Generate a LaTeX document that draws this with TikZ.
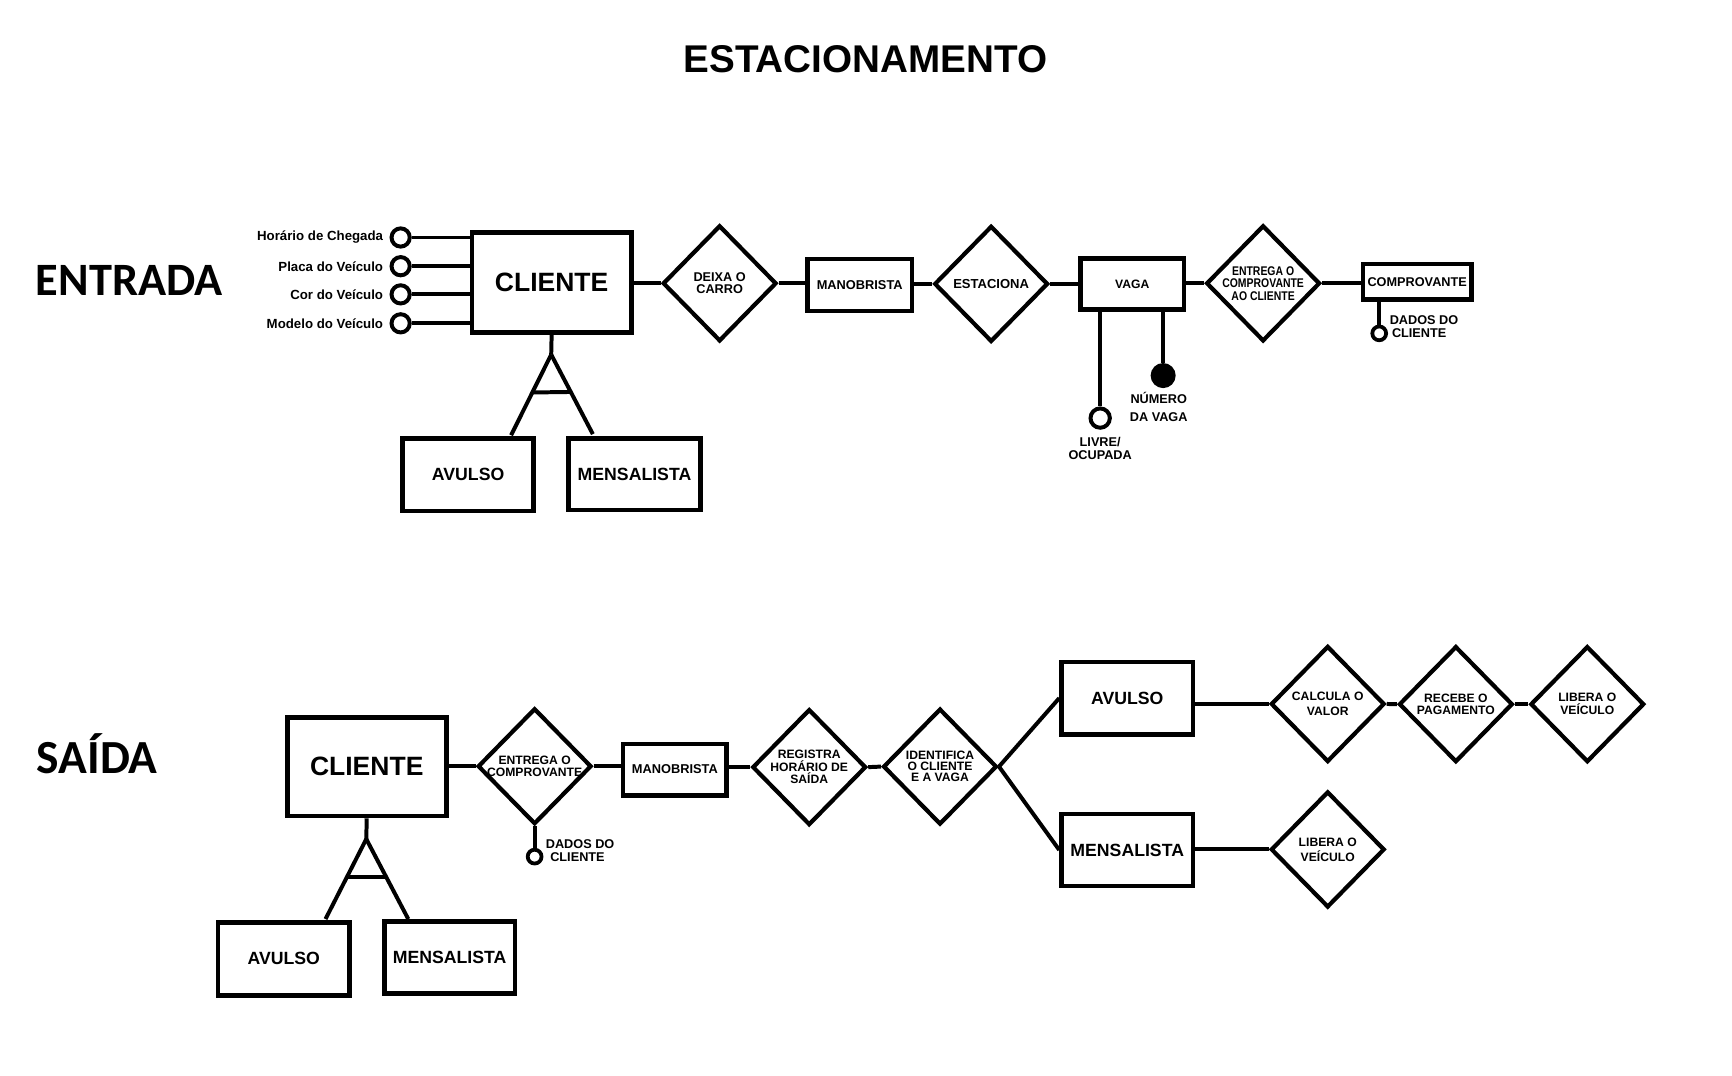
\documentclass[tikz,border=0pt]{standalone}
\usepackage{fontspec}
\setmainfont{Liberation Sans}
\newfontfamily\calibri{Carlito}
\newfontfamily\estreita[FakeStretch=0.83]{Liberation Sans}
\usetikzlibrary{shapes.geometric}

\tikzset{
  ent/.style={draw, rectangle, line width=4.2pt, inner sep=0pt, font=\bfseries\fontsize{11.6}{12}\selectfont},
  entg/.style={ent, font=\bfseries\fontsize{16}{16}\selectfont},
  rel/.style={draw, diamond, line width=3.8pt, inner sep=-14pt, minimum width=103pt, minimum height=105pt, align=center, font=\bfseries\fontsize{11}{11.2}\selectfont},
  attr/.style={draw, circle, line width=3.6pt, inner sep=0pt, minimum size=16.5pt},
  rot/.style={font=\bfseries\fontsize{11.5}{12}\selectfont, align=center, inner sep=0pt},
  liga/.style={line width=3.6pt},
}

\begin{document}
\begin{tikzpicture}[x=1pt,y=-1pt]
\fill[white] (0,0) rectangle (1568,974);
\useasboundingbox (0,0) rectangle (1568,974);

\node[anchor=base, font=\bfseries\fontsize{35}{35}\selectfont] (titulo) at (783.4,65.8) {ESTACIONAMENTO};
\node[anchor=base, font=\calibri\bfseries\fontsize{42}{42}\selectfont] (entrada) at (117,267.7) {ENTRADA};
\node[anchor=base, font=\calibri\bfseries\fontsize{43}{43}\selectfont] (saida) at (88,700) {SAÍDA};

% entrada
\node[ent, minimum width=144.4pt, minimum height=90.8pt, font=\bfseries\fontsize{24}{24}\selectfont] (cli1) at (499.4,255.6) {CLIENTE};
\node[rel, font=\bfseries\fontsize{11.5}{11.1}\selectfont] (deixa) at (651.5,256.5) {DEIXA O\\CARRO};
\node[ent, minimum width=94.4pt, minimum height=46.9pt] (man1) at (778.3,258) {MANOBRISTA};
\node[rel, font=\bfseries\fontsize{11.8}{12}\selectfont] (estac) at (897.3,257) {ESTACIONA};
\node[ent, minimum width=93.9pt, minimum height=45.9pt, font=\bfseries\fontsize{11}{11}\selectfont] (vaga) at (1025,257) {VAGA};
\node[rel, font=\estreita\bfseries\fontsize{11.4}{11.2}\selectfont] (entr1) at (1143.5,256.5) {ENTREGA O\\COMPROVANTE\\AO CLIENTE};
\node[ent, minimum width=97.9pt, minimum height=31.9pt, font=\bfseries\fontsize{11.5}{11.5}\selectfont] (comp) at (1283,255) {COMPROVANTE};

\draw[liga] (cli1.east |- deixa.west) -- (deixa.west);
\draw[liga] (deixa.east) -- (deixa.east -| man1.west);
\draw[liga] (man1.east |- estac.west) -- (estac.west);
\draw[liga] (estac.east) -- (estac.east -| vaga.west);
\draw[liga] (vaga.east |- entr1.west) -- (entr1.west);
\draw[liga] (entr1.east) -- (entr1.east -| comp.west);

% atributos do cliente
\node[attr] (a1) at (362.7,215) {};
\node[attr] (a2) at (362.7,241) {};
\node[attr] (a3) at (362.7,266.5) {};
\node[attr] (a4) at (362.7,292.7) {};
\node[rot, anchor=east, font=\bfseries\fontsize{12}{12}\selectfont] (ta1) at (347,215) {Horário de Chegada};
\node[rot, anchor=east, font=\bfseries\fontsize{12}{12}\selectfont] (ta2) at (347,241) {Placa do Veículo};
\node[rot, anchor=east, font=\bfseries\fontsize{12}{12}\selectfont] (ta3) at (347,266.5) {Cor do Veículo};
\node[rot, anchor=east, font=\bfseries\fontsize{12}{12}\selectfont] (ta4) at (347,292.7) {Modelo do Veículo};
\draw[liga] (a1.east) -- (a1.east -| cli1.west);
\draw[liga] (a2.east) -- (a2.east -| cli1.west);
\draw[liga] (a3.east) -- (a3.east -| cli1.west);
\draw[liga] (a4.east) -- (a4.east -| cli1.west);

% atributos da vaga e do comprovante
\node[attr, minimum size=17.5pt] (livre) at (996,378.5) {};
\node[attr, fill=black, minimum size=19pt] (num) at (1053,340) {};
\draw[liga] (livre.north |- vaga.south) -- (livre.north);
\draw[liga] (num.north |- vaga.south) -- (num.north);
\node[rot] (tlivre) at (996,406) {LIVRE/\\OCUPADA};
\node[rot, font=\bfseries\fontsize{11.5}{15.7}\selectfont] (tnum) at (1049,368.5) {NÚMERO\\DA VAGA};
\node[attr, line width=3.4pt, minimum size=12.5pt] (dados1) at (1248.6,301.8) {};
\draw[liga] (dados1.north |- comp.south) -- (dados1.north);
\node[rot, anchor=west, align=left] (tdados1) at (1258,296) {DADOS DO\\\hspace{2pt}CLIENTE};

% especializacao
\node[entg, minimum width=118.4pt, minimum height=65.4pt] (avu1) at (423.8,429.9) {AVULSO};
\node[entg, minimum width=119.4pt, minimum height=64.9pt] (men1) at (574.4,429.3) {MENSALISTA};
\coordinate (apex1) at (499,321);
\coordinate (pa1) at (462.7,394);
\coordinate (pm1) at (536.7,393);
\draw[liga] (cli1.south) -- (apex1);
\draw[liga] (apex1) -- coordinate[pos=0.47] (ca1) (pa1);
\draw[liga] (apex1) -- coordinate[pos=0.47] (cm1) (pm1);
\draw[liga] (ca1) -- (cm1);

% saida
\node[ent, minimum width=143.9pt, minimum height=89.4pt, font=\bfseries\fontsize{24}{24}\selectfont] (cli2) at (332,694) {CLIENTE};
\node[rel, font=\bfseries\fontsize{11}{10.5}\selectfont] (entr2) at (484,693.7) {ENTREGA O\\COMPROVANTE};
\node[ent, minimum width=93.9pt, minimum height=46.4pt] (man2) at (611,696.7) {MANOBRISTA};
\node[rel] (regis) at (732.6,694.5) {REGISTRA\\HORÁRIO DE\\SAÍDA};
\node[rel, font=\bfseries\fontsize{11}{10}\selectfont] (ident) at (851,694) {IDENTIFICA\\O CLIENTE\\E A VAGA};
\node[entg, minimum width=118.9pt, minimum height=65.4pt] (avu3) at (1020.5,632) {AVULSO};
\node[entg, minimum width=118.9pt, minimum height=64.9pt] (men3) at (1020.5,769.5) {MENSALISTA};
\node[rel, font=\bfseries\fontsize{11}{13.4}\selectfont] (calc) at (1202,637.3) {CALCULA O\\VALOR};
\node[rel, font=\bfseries\fontsize{11}{10.8}\selectfont] (receb) at (1318,637.5) {RECEBE O\\PAGAMENTO};
\node[rel, font=\bfseries\fontsize{11}{12}\selectfont] (libA) at (1437,637.5) {LIBERA O\\VEÍCULO};
\node[rel, font=\bfseries\fontsize{11}{13.5}\selectfont] (libB) at (1202,769) {LIBERA O\\VEÍCULO};

\draw[liga] (cli2.east |- entr2.west) -- (entr2.west);
\draw[liga] (entr2.east) -- (entr2.east -| man2.west);
\draw[liga] (man2.east |- regis.west) -- (regis.west);
\draw[liga] (regis.east) -- (ident.west);
\draw[liga] (ident.east) -- (avu3.west);
\draw[liga] (ident.east) -- (men3.west);
\draw[liga] (calc.west -| avu3.east) -- (calc.west);
\draw[liga] (calc.east) -- (receb.west);
\draw[liga] (receb.east) -- (libA.west);
\draw[liga] (libB.west -| men3.east) -- (libB.west);

\node[attr, line width=3.4pt, minimum size=12.5pt] (dados2) at (484,775.5) {};
\draw[liga] (entr2.south) -- (dados2.north);
\node[rot, anchor=west, align=left] (tdados2) at (494,770) {DADOS DO\\\hspace{4pt}CLIENTE};

\node[entg, minimum width=118.9pt, minimum height=65.9pt] (avu2) at (256.9,868) {AVULSO};
\node[entg, minimum width=118.4pt, minimum height=65.4pt] (men2) at (407,867) {MENSALISTA};
\coordinate (apex2) at (331.6,759.6);
\coordinate (pa2) at (294.7,832);
\coordinate (pm2) at (369.6,832);
\draw[liga] (cli2.south) -- (apex2);
\draw[liga] (apex2) -- coordinate[pos=0.475] (ca2) (pa2);
\draw[liga] (apex2) -- coordinate[pos=0.475] (cm2) (pm2);
\draw[liga] (ca2) -- (cm2);
\end{tikzpicture}
\end{document}
